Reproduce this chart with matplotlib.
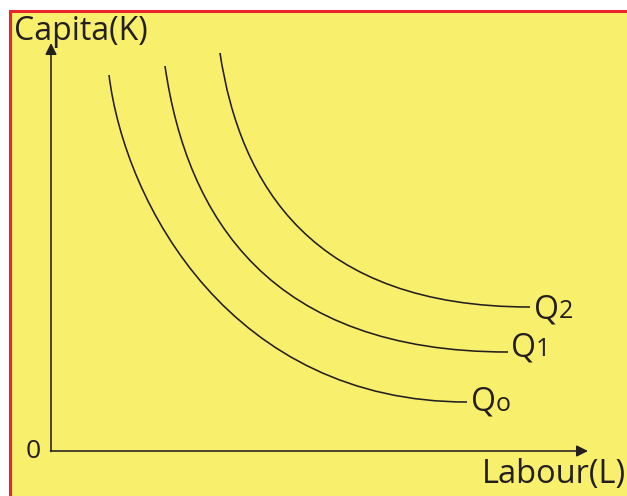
import matplotlib.pyplot as plt
from matplotlib.path import Path
from matplotlib.patches import PathPatch, Rectangle

# isoquants as cubic bezier control points (picture pixel coords)
q0_pts = [(109, 75), (125, 205), (232, 402), (467, 402)]
q1_pts = [(165, 66), (187, 218), (270, 352), (508, 352)]
q2_pts = [(220, 53), (240, 185), (312, 307), (530, 307)]
curve_names = ["0", "1", "2"]
label_pos = [(471, 411), (511, 356), (534, 318)]

origin = (51, 451)
y_tip = 43
x_tip = 588

ink = "#231f20"
yellow = "#f8f06c"

plt.rcParams['font.family'] = ['Open Sans', 'DejaVu Sans']

fig = plt.figure(figsize=(6.27, 4.96), dpi=100)
fig.patch.set_facecolor("white")
ax = fig.add_axes([0, 0, 1, 1])
ax.set_xlim(0, 627)
ax.set_ylim(496, 0)
ax.axis("off")

ax.add_patch(Rectangle((9.5, 10.5), 640, 520, facecolor=yellow,
                       edgecolor="#e8262a", lw=2.2))

codes = [Path.MOVETO, Path.CURVE4, Path.CURVE4, Path.CURVE4]
for pts in [q0_pts, q1_pts, q2_pts]:
    ax.add_patch(PathPatch(Path(pts, codes), facecolor="none",
                           edgecolor=ink, lw=1.15))

# axes with arrow heads
ax.annotate("", xy=(origin[0], y_tip), xytext=(origin[0], origin[1] + 0.5),
            arrowprops=dict(arrowstyle="-|>", mutation_scale=17, lw=1.15,
                            color=ink, shrinkA=0, shrinkB=0))
ax.annotate("", xy=(x_tip, origin[1]), xytext=(origin[0] - 0.5, origin[1]),
            arrowprops=dict(arrowstyle="-|>", mutation_scale=17, lw=1.15,
                            color=ink, shrinkA=0, shrinkB=0))

ax.text(14, 40, "Capita(K)", fontsize=23, color=ink, va="baseline", ha="left")
ax.text(482, 483, "Labour(L)", fontsize=23.5, color=ink, va="baseline", ha="left")
ax.text(41, 458, "0", fontsize=19, color=ink, va="baseline", ha="right")

for name, (lx, ly) in zip(curve_names, label_pos):
    ax.text(lx, ly, "Q", fontsize=23, color=ink, va="baseline", ha="left")
    digit = "o" if name == "0" else name
    ax.text(lx + 25, ly, digit, fontsize=18, color=ink, va="baseline", ha="left")

fig.savefig("out.png", dpi=100)
